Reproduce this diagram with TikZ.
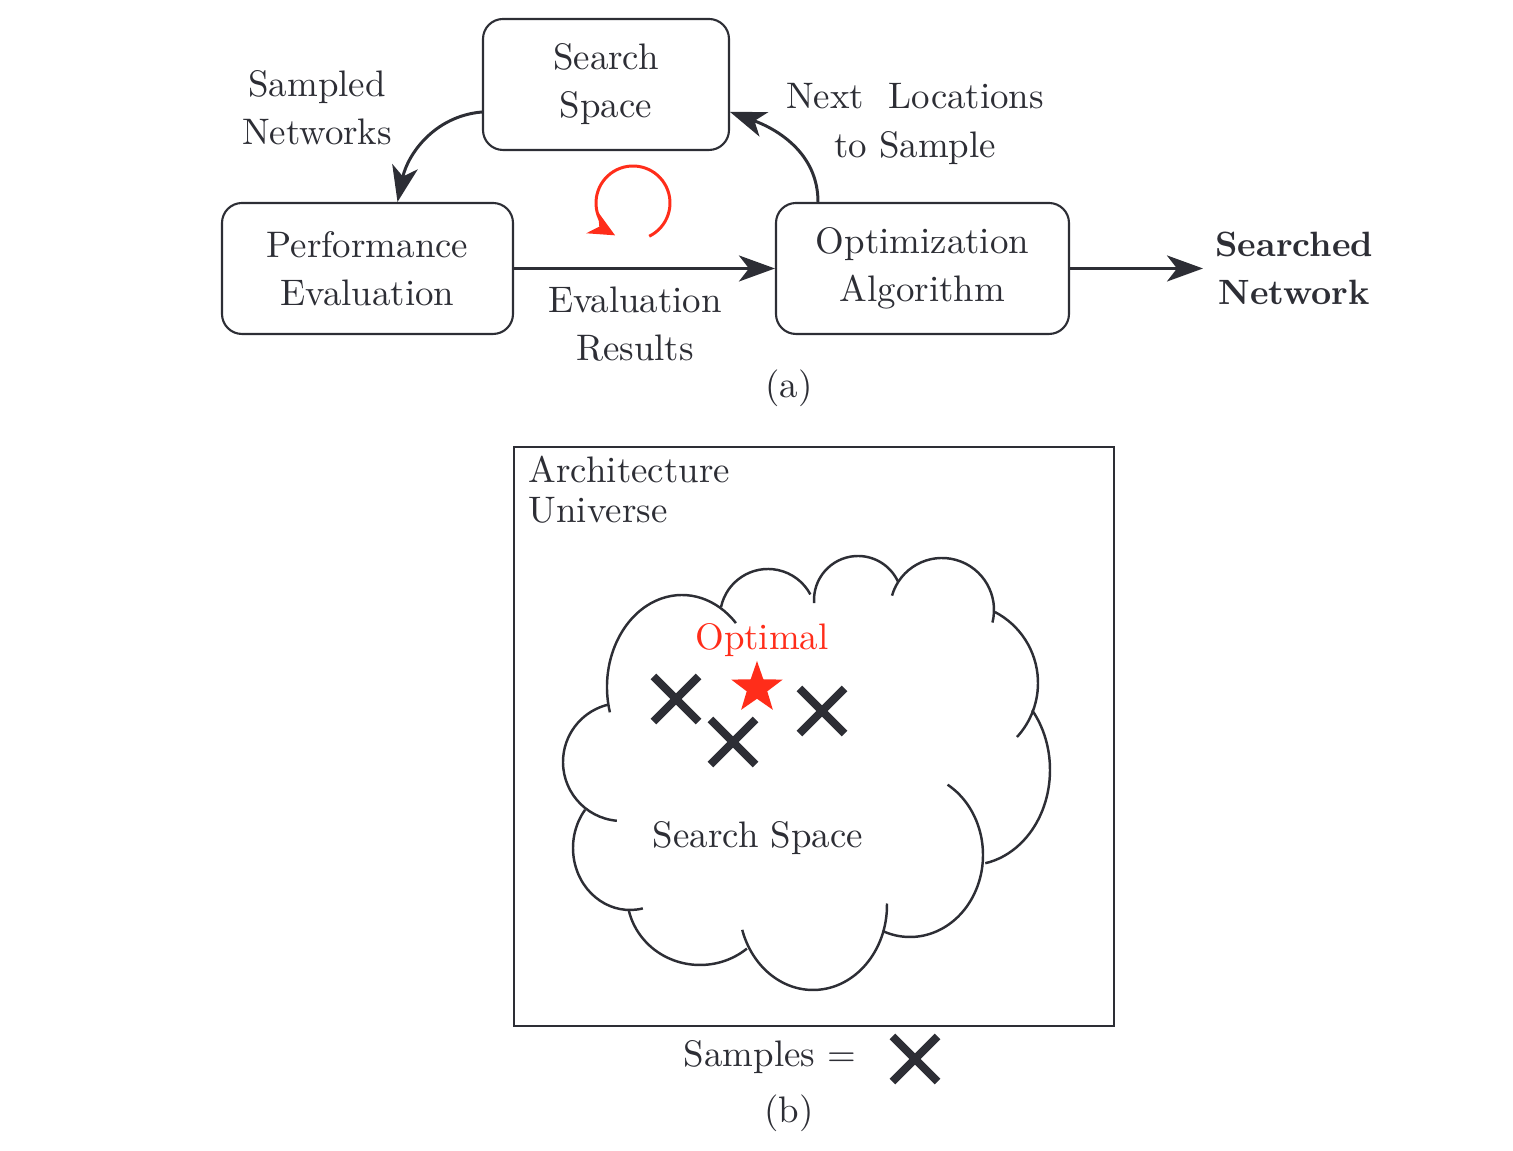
\documentclass[tikz,border=0pt]{standalone}
\usepackage{tikz}
\usetikzlibrary{arrows.meta,positioning,shapes.geometric,shapes.misc}
\definecolor{ink}{HTML}{2D2E35}
\definecolor{hot}{HTML}{FF2D1A}

\begin{document}
\begin{tikzpicture}
[x=0.1mm,y=0.1mm,>={Stealth[length=3.6mm,width=2.6mm,inset=1mm]},font=\fontsize{10.5}{13.7}\selectfont,ink,text=ink]
\tikzstyle{blk}=[rectangle, rounded corners=2mm, draw=ink, line width=0.6pt, minimum height=13.1mm, align=center, inner sep=0]
\tikzstyle{lbl}=[align=center]
\tikzstyle{flow}=[->, line width=0.85pt]
\tikzstyle{smp}=[cross out, draw=ink, line width=2.3pt, minimum size=3.7mm, inner sep=0]
\tikzstyle{cld}=[line width=0.7pt]

\useasboundingbox (0,0) rectangle (1513,1151);

% (a) search loop
\node[blk, minimum width=24.6mm] (ss) at (606,1066.5) {Search\\Space};
\node[blk, minimum width=29.1mm] (pe) at (367.5,882.5) {Performance\\Evaluation};
\node[blk, minimum width=29.3mm] (oa) at (922.5,882.5) {Optimization\\Algorithm};
\node[lbl, font=\fontsize{10}{13.7}\selectfont\bfseries, anchor=west] (sn) at (1203,882.5) {Searched\\Network};

\node[lbl] (sampled) at (317,1043) {Sampled\\Networks};
\node[lbl] (nextloc) at (915,1027) {Next\ \ Locations\\to Sample};
\node[lbl] (evalres) at (635,827) {Evaluation\\Results};
\node (capa) at (789,763) {(a)};
\coordinate (rot) at (633,948);

\path[flow]
	([yshift=-2.75mm]ss.west) edge [out=185, in=78] ([xshift=3mm]pe.north)
	([xshift=-10.45mm]oa.north) edge [out=90, in=-20] ([yshift=-2.75mm]ss.east)
	(pe.east) edge (oa.west)
	(oa.east) edge (sn.west);

\draw[hot, line width=0.85pt, -{Stealth[length=2.6mm,width=2.4mm,inset=0.8mm]}]
	(rot) ++(-64:3.7mm) arc[start angle=-64, end angle=241, radius=3.7mm];

% (b) architecture universe
\draw[line width=0.6pt] (514,125) rectangle (1114,704);
\node[align=left, anchor=west, inner sep=0, font=\fontsize{10.5}{11.4}\selectfont] (univ) at (528,661) {Architecture\\Universe};

% cloud: centre x/y, radii (mm), start/end angle
\foreach \cx/\cy/\rx/\ry/\sa/\ea in {682/464/7.5/9.2/196/44, 768/534/4.8/4.8/168/28,
	858/551/4.4/4.4/184/24, 942/541/5.2/5.2/164/-14, 958/468/8/8/62.5/-42.5,
	970/381/8/9.5/39/-79, 910/296/7.3/8.2/59/-112, 813/246/7.4/8.5/1/-163,
	700/256/7.3/7/-50/-168, 630/303/5.7/6.2/-77/-218, 622/389/5.9/5.9/-95/-257}
	\draw[cld] (\cx,\cy) ++(\sa:\rx mm and \ry mm) arc[start angle=\sa, end angle=\ea, x radius=\rx mm, y radius=\ry mm];

\node[text=hot] (optlbl) at (762,511) {Optimal};
\node[star, star points=5, star point ratio=2.5, fill=hot, minimum size=5.4mm, inner sep=0] (best) at (757,463) {};
\node[smp] (smp1) at (676,452) {};
\node[smp] (smp2) at (733,409) {};
\node[smp] (smp3) at (822,440) {};
\node (space) at (758,313) {Search Space};

\node (samples) at (770,94) {Samples =};
\node[smp] (smpkey) at (915,92) {};
\node (capb) at (789,38) {(b)};
\end{tikzpicture}
\end{document}
